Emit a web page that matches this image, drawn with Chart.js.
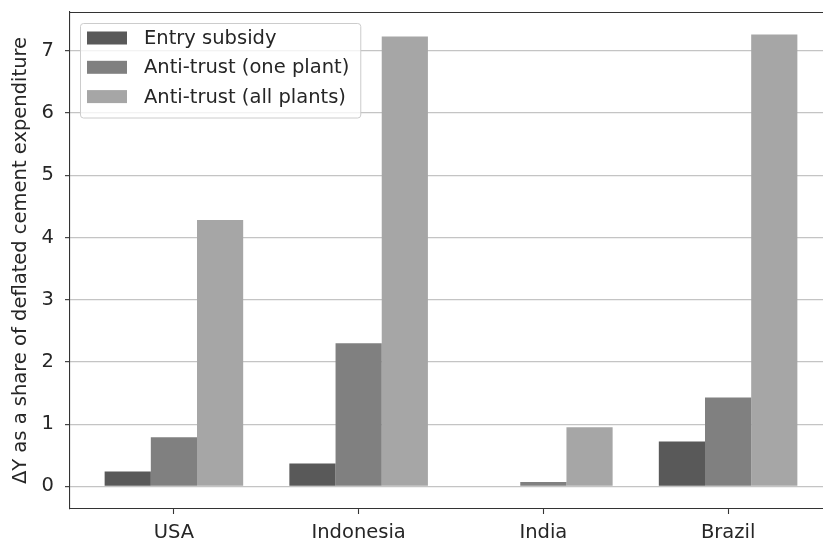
<!DOCTYPE html>
<html>
<head>
<meta charset="utf-8">
<script src="https://cdn.jsdelivr.net/npm/chart.js@4.4.1/dist/chart.umd.min.js"></script>
<style>
  html, body { margin: 0; padding: 0; background: #fff; overflow: hidden; }
  #wrap { width: 823px; height: 545px; overflow: hidden; }
  canvas { display: block; }
</style>
</head>
<body>
<!-- the axes run a little past the visible right edge -->
<div id="wrap"><canvas id="c" width="840" height="545"></canvas></div>
<script>
// Countries on the x axis
const categories = ['USA', 'Indonesia', 'India', 'Brazil'];
// Policy scenarios
const seriesNames = ['Entry subsidy', 'Anti-trust (one plant)', 'Anti-trust (all plants)'];
// ΔY as a share of deflated cement expenditure, per country
const entrySubsidy = [0.24, 0.37, 0.0, 0.72];
const antiTrustOnePlant = [0.79, 2.30, 0.07, 1.43];
const antiTrustAllPlants = [4.28, 7.23, 0.95, 7.26];
// y axis tick values
const yTicks = [0, 1, 2, 3, 4, 5, 6, 7];

const seriesValues = [entrySubsidy, antiTrustOnePlant, antiTrustAllPlants];
const barColors = ['#595959', '#808080', '#a6a6a6'];
const FONT = 'DejaVu Sans';
const TEXT = '#262626';

// axis limits with a 5% margin around the data, bars occupy 0.75 of each slot
const allVals = seriesValues.flat();
const yHi = Math.max(...allVals), yLo = Math.min(0, ...allVals);
const yPad = 0.05 * (yHi - yLo);
const xLo = -0.375, xHi = categories.length - 1 + 0.375;
const xPad = 0.05 * (xHi - xLo);

const datasets = seriesNames.map((name, s) => ({
  label: name,
  data: seriesValues[s].map((v, i) => ({ x: i, y: v })),
  backgroundColor: barColors[s],
  borderWidth: 0,
  categoryPercentage: 0.75,
  barPercentage: 1.0
}));

// framed legend in the upper-left corner of the plot area
const framedLegend = {
  id: 'framedLegend',
  afterDraw(chart) {
    const { ctx, chartArea: a } = chart;
    const ds = chart.data.datasets;
    ctx.save();
    ctx.font = '19.5px "' + FONT + '"';
    const textW = Math.max(...ds.map(d => ctx.measureText(d.label).width));
    const x0 = a.left + 10, y0 = a.top + 11;
    const sw = 40, sh = 13, rowH = 29.3;
    const w = 7 + sw + 17 + textW + 11;
    const h = 94.5;
    ctx.beginPath();
    ctx.roundRect(x0 + 0.5, y0 + 0.5, w, h, 3);
    ctx.fillStyle = 'rgba(255,255,255,0.8)';
    ctx.fill();
    ctx.strokeStyle = '#cccccc';
    ctx.lineWidth = 1;
    ctx.stroke();
    ds.forEach((d, i) => {
      const cy = y0 + 15 + i * rowH;
      ctx.fillStyle = d.backgroundColor;
      ctx.fillRect(x0 + 7, cy - sh / 2, sw, sh);
      ctx.fillStyle = TEXT;
      ctx.textBaseline = 'middle';
      ctx.textAlign = 'left';
      ctx.fillText(d.label, x0 + 7 + sw + 17, cy + 1);
    });
    ctx.restore();
  }
};

// top frame line of the axes
const topSpine = {
  id: 'topSpine',
  afterDatasetsDraw(chart) {
    const { ctx, chartArea: a } = chart;
    ctx.save();
    ctx.strokeStyle = '#333333';
    ctx.lineWidth = 1.1;
    ctx.beginPath();
    ctx.moveTo(a.left, a.top + 0.5);
    ctx.lineTo(a.right, a.top + 0.5);
    ctx.stroke();
    ctx.restore();
  }
};

new Chart(document.getElementById('c'), {
  type: 'bar',
  data: { datasets },
  plugins: [topSpine, framedLegend],
  options: {
    responsive: false,
    animation: false,
    layout: { padding: { top: 12, right: 8, left: 0, bottom: 0 } },
    plugins: { legend: { display: false }, tooltip: { enabled: false } },
    scales: {
      x: {
        type: 'linear',
        min: xLo - xPad,
        max: xHi + xPad,
        offset: false,
        afterBuildTicks: s => { s.ticks = categories.map((_, i) => ({ value: i })); },
        afterFit: s => { s.height = 36; s.paddingLeft = 0; s.paddingRight = 0; },
        ticks: {
          autoSkip: false,
          maxRotation: 0,
          padding: 7,
          color: TEXT,
          font: { family: FONT, size: 19.5 },
          callback: v => categories[v] ?? ''
        },
        grid: { offset: false, drawOnChartArea: false, drawTicks: true, tickLength: 5, tickColor: '#333333', tickWidth: 1.1 },
        border: { display: true, color: '#333333', width: 1.1 }
      },
      y: {
        min: yLo - yPad,
        max: yHi + yPad,
        afterBuildTicks: s => { s.ticks = yTicks.map(v => ({ value: v })); },
        afterFit: s => { s.width = 70; s.paddingTop = 0; s.paddingBottom = 0; },
        ticks: {
          padding: 11,
          color: TEXT,
          font: { family: FONT, size: 19.5 }
        },
        grid: { color: '#c4c4c4', lineWidth: 1.3, drawTicks: true, tickLength: 5, tickColor: '#333333', tickWidth: 1.1 },
        border: { display: true, color: '#333333', width: 1.1 },
        title: {
          display: true,
          text: 'ΔY as a share of deflated cement expenditure',
          color: TEXT,
          font: { family: FONT, size: 19.5 },
          padding: { top: 9, bottom: 0 }
        }
      }
    }
  }
});
</script>
</body>
</html>
